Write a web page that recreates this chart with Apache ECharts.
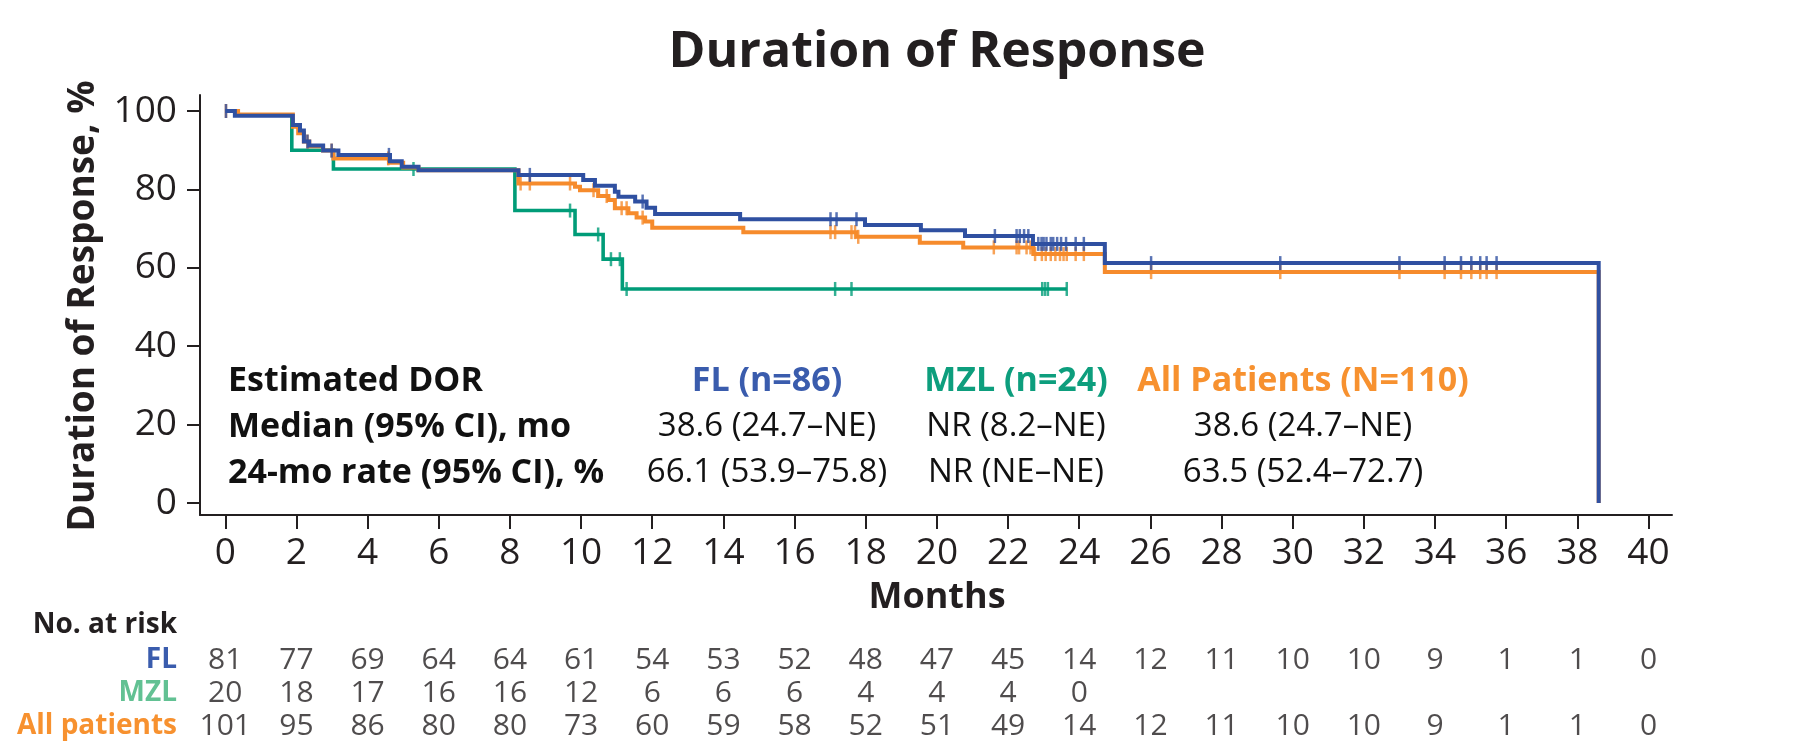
<!DOCTYPE html>
<html>
<head>
<meta charset="utf-8">
<script src="https://cdn.jsdelivr.net/npm/echarts@6/dist/echarts.min.js"></script>
<style>
  html, body { margin: 0; padding: 0; background: #ffffff; }
  #chart { width: 1809px; height: 755px; }
</style>
</head>
<body>
<div id="chart"></div>
<script>
// ---- tick labels ----
const monthTicks = [0, 2, 4, 6, 8, 10, 12, 14, 16, 18, 20, 22, 24, 26, 28, 30, 32, 34, 36, 38, 40];
const survivalTicks = [0, 20, 40, 60, 80, 100];

// ---- Kaplan-Meier steps: event times (months) and survival (%) after each step ----
const flTimes    = [0, 0.27, 1.90, 2.10, 2.21, 2.36, 2.75, 3.18, 4.63, 4.96, 5.43, 8.24, 10.06, 10.39, 10.95, 11.05, 11.52, 11.84, 12.08, 14.47, 17.98, 19.55, 20.79, 22.70, 24.72, 38.60];
const flSurvival = [100, 98.8, 96.4, 95.0, 92.2, 91.2, 89.9, 88.8, 87.2, 85.8, 84.9, 83.7, 82.4, 80.9, 79.4, 78.1, 76.9, 75.3, 73.7, 72.4, 70.9, 69.6, 68.1, 66.1, 61.2, 0];
const flCensored = [0.02, 2.31, 2.99, 4.60, 8.56, 11.73, 17.01, 17.18, 17.74, 21.63, 22.24, 22.33, 22.45, 22.57, 22.85, 22.94, 23.00, 23.08, 23.20, 23.27, 23.38, 23.49, 23.63, 23.90, 24.13, 26.02, 29.65, 33.00, 34.27, 34.73, 35.02, 35.27, 35.45, 35.73];

const mzlTimes    = [0, 0.36, 1.87, 3.04, 8.14, 9.83, 10.62, 11.16, 23.65];
const mzlSurvival = [100, 99.0, 90.0, 85.2, 74.6, 68.5, 62.2, 54.6, 54.6];
const mzlCensored = [5.29, 9.69, 10.48, 10.84, 11.09, 11.28, 17.14, 17.60, 22.96, 23.04, 23.12, 23.65];

const allTimes    = [0, 0.36, 1.90, 2.05, 2.21, 2.36, 2.75, 3.04, 4.60, 5.00, 5.43, 8.24, 9.83, 9.97, 10.48, 10.77, 10.95, 11.33, 11.56, 11.80, 12.00, 14.56, 17.74, 19.52, 20.74, 22.71, 24.72, 38.60];
const allSurvival = [100, 99.1, 96.0, 94.3, 92.2, 91.0, 89.9, 87.9, 86.8, 85.6, 84.9, 81.5, 80.7, 79.8, 78.3, 77.3, 75.2, 73.9, 72.8, 71.8, 70.2, 69.1, 67.9, 66.4, 65.2, 63.5, 58.9, 0];
const allCensored = [0.02, 2.31, 2.99, 4.58, 8.30, 8.56, 9.69, 10.35, 10.72, 11.14, 11.28, 11.73, 17.01, 17.14, 17.60, 17.70, 17.79, 21.60, 22.24, 22.31, 22.52, 22.63, 22.76, 22.95, 23.06, 23.20, 23.33, 23.46, 23.56, 23.65, 23.90, 24.13, 26.02, 29.65, 33.00, 34.27, 34.73, 35.02, 35.27, 35.45, 35.73];

// ---- number at risk, one value per month tick ----
const riskRows = ['FL', 'MZL', 'All patients'];
const riskFL  = [81, 77, 69, 64, 64, 61, 54, 53, 52, 48, 47, 45, 14, 12, 11, 10, 10, 9, 1, 1, 0];
const riskMZL = [20, 18, 17, 16, 16, 12, 6, 6, 6, 4, 4, 4, 0];
const riskAll = [101, 95, 86, 80, 80, 73, 60, 59, 58, 52, 51, 49, 14, 12, 11, 10, 10, 9, 1, 1, 0];

// ---- summary table ----
const statRowLabels = ['Estimated DOR', 'Median (95% CI), mo', '24-mo rate (95% CI), %'];
const groupHeaders  = ['FL (n=86)', 'MZL (n=24)', 'All Patients (N=110)'];
const medianText    = ['38.6 (24.7–NE)', 'NR (8.2–NE)', '38.6 (24.7–NE)'];
const rate24Text    = ['66.1 (53.9–75.8)', 'NR (NE–NE)', '63.5 (52.4–72.7)'];

// ---- styling ----
const INK = '#231F20';
const C_FL = '#2F50A1', C_MZL = '#009C78', C_ALL = '#F68B2C';
const T_FL = '#3A5CAD', T_MZL = '#0D9E7D', T_ALL = '#F7912F', T_MZL_RISK = '#62C193';
const FONT = '"Open Sans", "Noto Sans", sans-serif';

function stepValue(times, surv, t) {
  let v = surv[0];
  for (let i = 0; i < times.length; i++) if (times[i] <= t) v = surv[i];
  return v;
}
const pairs = (times, surv) => times.map((t, i) => [t, surv[i]]);
const censorPoints = (cens, times, surv) => cens.map(t => [t, stepValue(times, surv, t)]);

function curve(name, times, surv, color, width, z) {
  return { name, type: 'line', step: 'end', xAxisIndex: 0, yAxisIndex: 0,
    data: pairs(times, surv), symbol: 'none', z,
    lineStyle: { color, width, cap: 'butt', join: 'miter' } };
}
function censors(name, cens, times, surv, color, z) {
  return { name: name + ' censored', type: 'scatter', xAxisIndex: 0, yAxisIndex: 0,
    data: censorPoints(cens, times, surv), symbol: 'rect', symbolSize: [2.5, 14], z,
    itemStyle: { color } };
}
function riskSeries(row, values) {
  return { type: 'scatter', xAxisIndex: 1, yAxisIndex: 1, symbolSize: 0.01,
    data: values.map((v, i) => [monthTicks[i], row, v]),
    label: { show: true, position: 'inside', formatter: p => String(p.value[2]),
      fontFamily: FONT, fontSize: 30, color: INK } };
}

const X_MIN = -0.71, X_MAX = 40.66;
const GRID_L = 200, GRID_R = 137;

function txt(text, x, y, opts) {
  const o = Object.assign({ align: 'left', size: 34, weight: 'bold', color: '#111' }, opts || {});
  return { type: 'text', x, y, rotation: o.rotation || 0, silent: true,
    style: { text, fill: o.color, fontFamily: FONT, fontSize: o.size, fontWeight: o.weight,
      align: o.align, textAlign: o.align, verticalAlign: 'middle', textVerticalAlign: 'middle' } };
}

const rowY = [381, 427, 473];
const colX = [767, 1016, 1303];
const colColor = [T_FL, T_MZL, T_ALL];
const graphics = [
  txt('Duration of Response', 937, 53, { align: 'center', size: 50, color: INK }),
  txt('Duration of Response, %', 83, 306, { align: 'center', size: 37, color: INK, rotation: Math.PI / 2 }),
  txt('Months', 937, 598, { align: 'center', size: 36, color: INK }),
  txt('No. at risk', 177, 625, { align: 'right', size: 28, color: INK })
];
statRowLabels.forEach((s, i) => graphics.push(txt(s, 228, rowY[i], { size: 34 })));
groupHeaders.forEach((s, i) => graphics.push(txt(s, colX[i], rowY[0], { align: 'center', size: 34, color: colColor[i] })));
medianText.forEach((s, i) => graphics.push(txt(s, colX[i], rowY[1], { align: 'center', size: 33, weight: 'normal', color: '#111' })));
rate24Text.forEach((s, i) => graphics.push(txt(s, colX[i], rowY[2], { align: 'center', size: 33, weight: 'normal', color: '#111' })));

const riskLabelColor = { 'FL': T_FL, 'MZL': T_MZL_RISK, 'All patients': T_ALL };

const option = {
  animation: false,
  backgroundColor: '#ffffff',
  grid: [
    { left: GRID_L, right: GRID_R, top: 95, bottom: 240 },
    { left: GRID_L, right: GRID_R, top: 643.5, height: 99 }
  ],
  xAxis: [
    { type: 'value', gridIndex: 0, min: X_MIN, max: X_MAX,
      axisLine: { onZero: false, lineStyle: { color: INK, width: 2 } },
      axisTick: { customValues: monthTicks, length: 14, lineStyle: { color: INK, width: 2 } },
      axisLabel: { customValues: monthTicks, fontFamily: FONT, fontSize: 37, color: INK, margin: 20 },
      splitLine: { show: false } },
    { type: 'value', gridIndex: 1, min: X_MIN, max: X_MAX, show: false }
  ],
  yAxis: [
    { type: 'value', gridIndex: 0, min: -3.06, max: 104.08,
      axisLine: { show: true, onZero: false, lineStyle: { color: INK, width: 2 } },
      axisTick: { show: true, customValues: survivalTicks, length: 13, lineStyle: { color: INK, width: 2 } },
      axisLabel: { customValues: survivalTicks, fontFamily: FONT, fontSize: 37, color: INK, margin: 23 },
      splitLine: { show: false } },
    { type: 'category', gridIndex: 1, data: riskRows, inverse: true,
      axisLine: { show: false }, axisTick: { show: false }, splitLine: { show: false },
      axisLabel: { interval: 0, hideOverlap: false, margin: 23, fontFamily: FONT, fontSize: 28, fontWeight: 'bold',
        color: v => riskLabelColor[v] } }
  ],
  series: [
    curve('MZL', mzlTimes, mzlSurvival, C_MZL, 3.6, 2),
    censors('MZL', mzlCensored, mzlTimes, mzlSurvival, C_MZL, 2),
    curve('All patients', allTimes, allSurvival, C_ALL, 4, 3),
    censors('All patients', allCensored, allTimes, allSurvival, C_ALL, 3),
    curve('FL', flTimes, flSurvival, C_FL, 4, 4),
    censors('FL', flCensored, flTimes, flSurvival, C_FL, 4),
    riskSeries('FL', riskFL),
    riskSeries('MZL', riskMZL),
    riskSeries('All patients', riskAll)
  ],
  graphic: { elements: graphics }
};

const chart = echarts.init(document.getElementById('chart'), null, { renderer: 'canvas' });
chart.setOption(option);
</script>
</body>
</html>
